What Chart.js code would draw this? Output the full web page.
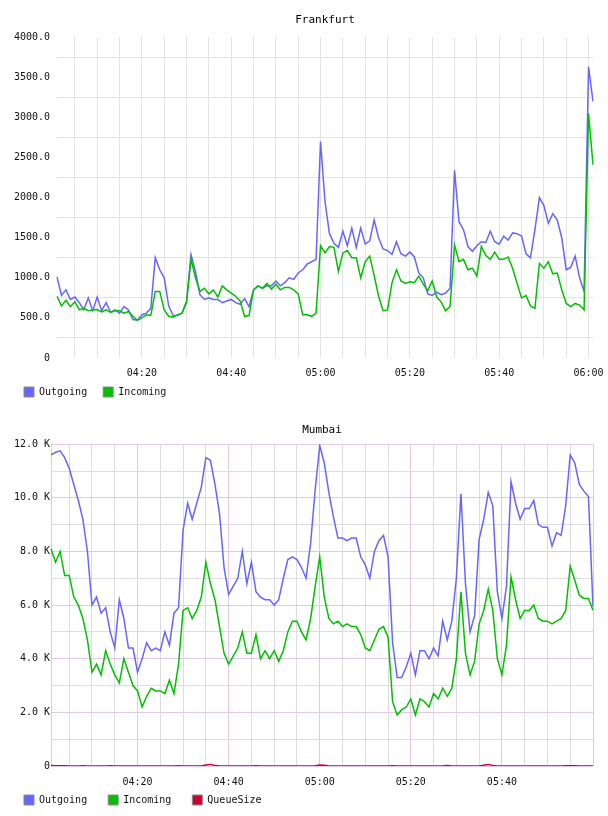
<!DOCTYPE html>
<html>
<head>
<meta charset="utf-8">
<script src="https://cdn.jsdelivr.net/npm/chart.js@4.4.0/dist/chart.umd.min.js"></script>
<style>
body{margin:0;background:#fff;}
#top{position:absolute;left:0;top:0;}
#bot{position:absolute;left:0;top:410px;}
</style>
</head>
<body>
<canvas id="top" width="608" height="410"></canvas>
<canvas id="bot" width="608" height="406"></canvas>
<script>
// time axis: one sample per minute starting at 04:01
function makeTimes(h, m, n){
    var out = [];
    for(var i=0; i<n; i++){
        var t = h*60 + m + i;
        var hh = Math.floor(t/60), mm = t%60;
        out.push((hh<10?'0':'')+hh+':'+(mm<10?'0':'')+mm);
    }
    return out;
}
var topTimes = makeTimes(4, 1, 121);   // 04:01 .. 06:01
var botTimes = makeTimes(4, 1, 120);   // 04:01 .. 06:00

var frankOut = [1010,780,850,730,760,690,600,750,590,760,
    590,690,570,600,560,640,600,480,470,540,
    560,620,1250,1100,1000,650,530,530,560,700,
    1290,1080,790,730,750,730,730,690,710,730,
    690,670,740,640,850,900,870,900,900,960,
    900,940,1000,980,1060,1100,1170,1200,1230,2700,
    1950,1550,1430,1380,1580,1400,1620,1380,1620,1420,
    1460,1720,1500,1360,1340,1290,1450,1300,1270,1320,
    1260,1060,1000,800,780,820,790,810,870,2340,
    1700,1600,1390,1330,1400,1450,1440,1580,1450,1420,
    1520,1470,1560,1550,1520,1300,1250,1600,2000,1900,
    1680,1800,1720,1500,1100,1130,1270,1000,830,3630,
    3200];
var frankIn = [770,650,720,640,700,600,620,590,600,605,
    575,600,570,590,590,560,580,520,470,500,
    540,530,830,830,600,520,510,540,560,700,
    1230,1000,830,870,800,850,760,900,850,810,
    770,710,520,530,850,900,870,930,860,920,
    850,880,880,850,800,540,540,520,560,1400,
    1310,1390,1380,1080,1310,1340,1250,1250,1000,1200,
    1270,1030,770,590,600,940,1100,960,930,950,
    940,1020,920,840,960,760,700,590,640,1410,
    1200,1230,1100,1120,1020,1390,1280,1230,1320,1230,
    1230,1260,1120,930,750,780,650,620,1180,1120,
    1200,1050,1060,850,680,640,680,660,600,3050,
    2410];

var mumOut = [11600,11700,11750,11500,11100,10500,9900,9200,8000,6000,
    6300,5700,5900,5000,4400,6200,5500,4400,4400,3500,
    4000,4600,4300,4400,4300,5000,4500,5700,5900,8800,
    9800,9200,9800,10400,11500,11400,10500,9400,7400,6400,
    6700,7000,8000,6800,7600,6500,6300,6200,6200,6000,
    6200,7000,7700,7800,7700,7400,7000,8300,10300,11950,
    11300,10200,9300,8500,8500,8400,8500,8500,7800,7500,
    7000,8000,8400,8600,7800,4600,3300,3300,3700,4200,
    3400,4300,4300,4000,4400,4100,5400,4700,5400,7000,
    10150,6800,5000,5600,8450,9200,10200,9700,6500,5500,
    6700,10600,9800,9200,9600,9600,9900,9000,8900,8900,
    8200,8700,8600,9700,11600,11300,10500,10250,10050,5950];
var mumIn = [8100,7600,8000,7100,7100,6300,6000,5500,4700,3500,
    3800,3400,4300,3800,3400,3100,4000,3500,3000,2800,
    2200,2600,2900,2800,2800,2700,3200,2700,3800,5800,
    5900,5500,5800,6300,7600,6800,6200,5200,4200,3800,
    4100,4400,5000,4200,4200,4900,4000,4300,4000,4300,
    3900,4300,5000,5400,5400,5000,4700,5500,6700,7800,
    6300,5500,5300,5400,5200,5300,5200,5200,4900,4400,
    4300,4700,5100,5200,4800,2400,1900,2100,2200,2500,
    1900,2500,2400,2200,2700,2500,2900,2600,2900,4000,
    6500,4200,3400,3900,5300,5800,6600,5800,4000,3400,
    4500,7050,6200,5500,5800,5800,6000,5500,5400,5400,
    5300,5400,5500,5800,7450,6930,6370,6250,6250,5810];
var mumQueue = [20,10,10,10,0,0,0,10,0,0,
    0,0,0,10,0,0,0,0,0,0,
    0,0,0,0,0,0,0,0,10,0,
    0,0,0,0,40,60,20,0,0,0,
    0,0,0,0,0,10,0,0,0,0,
    0,0,0,0,0,0,0,0,10,40,
    30,0,0,0,0,0,0,0,0,0,
    0,0,0,0,0,10,0,0,0,0,
    0,0,0,0,0,0,0,20,0,0,
    0,0,0,0,0,30,60,20,0,0,
    0,0,0,0,0,0,0,0,0,0,
    0,0,0,10,10,10,0,0,0,0];

var BLUE = '#6666ff', GREEN = '#00c000', RED = '#cc0033';
var GRID = '#e3e3e3';
var MINOR = 'rgb(223,219,226)', MAJOR = 'rgb(228,198,230)';
var NONE = 'rgba(0,0,0,0)';

Chart.defaults.font.family = 'DejaVu Sans Mono';
Chart.defaults.font.size = 10;
Chart.defaults.color = '#111';

// moves the legend up to a fixed top, closer to the tick labels
var legendShift = {
    id: 'legendShift',
    afterLayout: function(chart, args, opts){
        var L = chart.legend;
        if(!L || opts.top === undefined) return;
        L.top = opts.top;
        L.bottom = chart.height;
        L.height = L.bottom - L.top;
    }
};

function minuteOf(lab){ return parseInt(lab.slice(3), 10); }

function legendLabels(chart){
    return chart.data.datasets.map(function(ds, i){
        return {text: ds.label, fillStyle: ds.borderColor, strokeStyle: '#8a8a8a',
                lineWidth: 1, hidden: false, datasetIndex: i, fontColor: '#111'};
    });
}

function line(label, data, color, order){
    return {label: label, data: data, borderColor: color, backgroundColor: color,
            borderWidth: 1.5, pointRadius: 0, tension: 0, fill: false, order: order};
}

// Frankfurt
new Chart(document.getElementById('top'), {
    type: 'line',
    data: {labels: topTimes, datasets: [
        line('Outgoing', frankOut, BLUE, 2),
        line('Incoming', frankIn, GREEN, 1)
    ]},
    plugins: [legendShift],
    options: {
        responsive: false, animation: false,
        layout: {padding: {left: 8, right: 15, top: 0, bottom: 0}},
        plugins: {
            title: {display: true, text: 'Frankfurt', fullSize: false, color: '#000',
                    font: {size: 11, weight: 'normal'}, padding: {top: 14, bottom: 10}},
            legend: {position: 'bottom', align: 'start', maxHeight: 31,
                     labels: {boxWidth: 10, boxHeight: 10, padding: 16, generateLabels: legendLabels}},
            legendShift: {top: 371},
            tooltip: {enabled: false}
        },
        scales: {
            x: {
                ticks: {autoSkip: false, maxRotation: 0, minRotation: 0, padding: 9,
                    callback: function(v, i){
                        var m = minuteOf(topTimes[i]);
                        return (m % 20 === 0) ? topTimes[i] : '';
                    }},
                grid: {drawTicks: false, color: function(ctx){
                    if(ctx.index === undefined) return NONE;
                    return minuteOf(topTimes[ctx.index]) % 5 === 0 ? GRID : NONE;
                }},
                border: {display: false},
                afterFit: function(s){ s.height = 21; }
            },
            y: {
                min: 0, max: 4000,
                ticks: {stepSize: 250, padding: 7,
                    callback: function(v){
                        if(v % 500 !== 0) return '';
                        return v === 0 ? '0' : v.toFixed(1);
                    }},
                grid: {drawTicks: false, color: function(ctx){
                    if(!ctx.tick) return NONE;
                    return ctx.tick.value % 500 === 0 ? NONE : GRID;
                }},
                border: {display: false},
                afterFit: function(s){ s.width = 49; }
            }
        }
    }
});

// Mumbai
new Chart(document.getElementById('bot'), {
    type: 'line',
    data: {labels: botTimes, datasets: [
        line('Outgoing', mumOut, BLUE, 2),
        line('Incoming', mumIn, GREEN, 1),
        line('QueueSize', mumQueue, RED, 0)
    ]},
    plugins: [legendShift],
    options: {
        responsive: false, animation: false,
        layout: {padding: {left: 3, right: 15, top: 0, bottom: 0}},
        plugins: {
            title: {display: true, text: 'Mumbai', fullSize: false, color: '#000',
                    font: {size: 11, weight: 'normal'}, padding: {top: 14, bottom: 7}},
            legend: {position: 'bottom', align: 'start', maxHeight: 28,
                     labels: {boxWidth: 10, boxHeight: 10, padding: 21, generateLabels: legendLabels}},
            legendShift: {top: 364},
            tooltip: {enabled: false}
        },
        scales: {
            x: {
                ticks: {autoSkip: false, maxRotation: 0, minRotation: 0, padding: 10,
                    callback: function(v, i){
                        if(i === botTimes.length - 1) return '';
                        var m = minuteOf(botTimes[i]);
                        return (m % 20 === 0) ? botTimes[i] : '';
                    }},
                grid: {drawTicks: false, color: function(ctx){
                    if(ctx.index === undefined) return NONE;
                    var i = ctx.index;
                    if(i === 0 || i === botTimes.length - 1) return MAJOR;
                    var m = minuteOf(botTimes[i]);
                    if(m % 20 === 0) return MAJOR;
                    return m % 5 === 0 ? MINOR : NONE;
                }},
                border: {display: false},
                afterFit: function(s){ s.height = 22; }
            },
            y: {
                min: 0, max: 12000,
                ticks: {stepSize: 1000, padding: 1,
                    callback: function(v){
                        if(v % 2000 !== 0) return '';
                        return v === 0 ? '0' : (v/1000).toFixed(1) + ' K';
                    }},
                grid: {drawTicks: false, color: function(ctx){
                    if(!ctx.tick) return NONE;
                    return ctx.tick.value % 2000 === 0 ? MAJOR : MINOR;
                }},
                border: {display: false},
                afterFit: function(s){ s.width = 48; }
            }
        }
    }
});
</script>
</body>
</html>
